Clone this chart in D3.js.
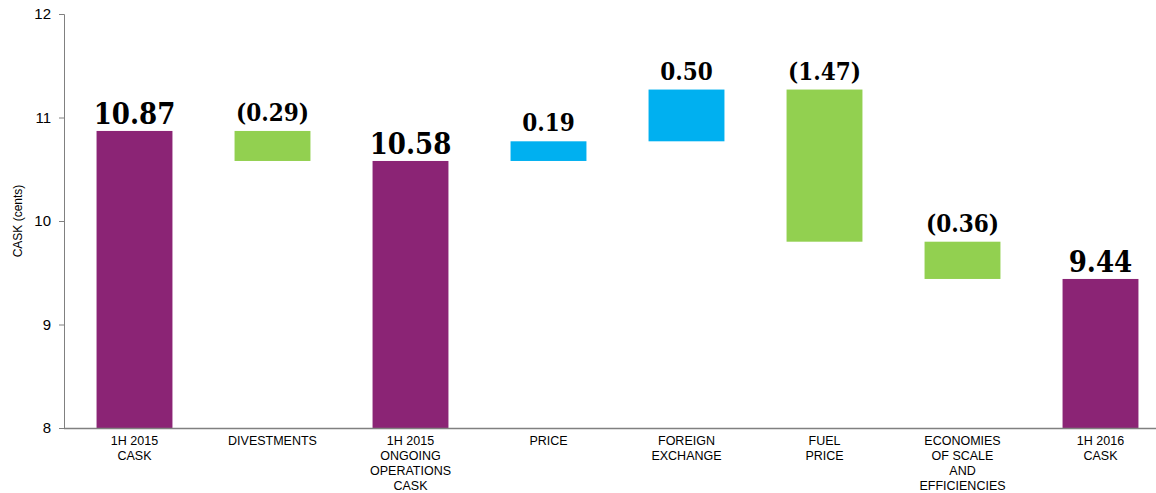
<!DOCTYPE html>
<html><head><meta charset="utf-8">
<script src="https://cdn.jsdelivr.net/npm/d3@7"></script>
<style>body{margin:0;background:#fff}svg{display:block}</style>
</head><body>
<svg id="c" width="1156" height="493"></svg>
<script>
const categories = [["1H 2015","CASK"],["DIVESTMENTS"],["1H 2015","ONGOING","OPERATIONS","CASK"],["PRICE"],["FOREIGN","EXCHANGE"],["FUEL","PRICE"],["ECONOMIES","OF SCALE","AND","EFFICIENCIES"],["1H 2016","CASK"]];
const values = [10.87, -0.29, 10.58, 0.19, 0.50, -1.47, -0.36, 9.44];
const kinds = ["total","delta","total","delta","delta","delta","delta","total"];
const labels = ["10.87","(0.29)","10.58","0.19","0.50","(1.47)","(0.36)","9.44"];
const yTicks = [8, 9, 10, 11, 12];

const svg = d3.select("#c");
const x = d3.scaleBand().domain(d3.range(categories.length)).range([65.5, 1169.5]).paddingInner(0.45).paddingOuter(0.225);
const y = d3.scaleLinear().domain([8, 12]).range([428, 14]);

// compute waterfall
let run = 0;
const bars = values.map((v, i) => {
  let lo, hi, color;
  if (kinds[i] === "total") { lo = 8; hi = v; run = v; color = "#8B2475"; }
  else { const s = run; run = +(run + v).toFixed(2); lo = Math.min(s, run); hi = Math.max(s, run); color = v < 0 ? "#92D050" : "#00B0F0"; }
  return {i, lo, hi, color, total: kinds[i] === "total"};
});

svg.selectAll("rect.bar").data(bars).join("rect")
  .attr("x", d => x(d.i)).attr("width", x.bandwidth())
  .attr("y", d => y(d.hi)).attr("height", d => y(d.lo) - y(d.hi) + (d.total ? 1 : 0))
  .attr("fill", d => d.color);

// y axis
const ya = svg.append("g").attr("transform", "translate(64,0)")
  .call(d3.axisLeft(y).tickValues(yTicks).tickSize(5).tickPadding(8).tickFormat(d3.format("d")));
ya.select(".domain").attr("stroke", "#808080").attr("d", "M-5,14.5H0.5V428.5H-5");
ya.selectAll(".tick line").attr("stroke", "#808080");
ya.selectAll(".tick text").attr("font-family", "Liberation Sans, Arial, sans-serif").attr("font-size", 15).attr("fill", "#000");

// x axis line
svg.append("line").attr("x1", 64).attr("x2", 1156).attr("y1", 428.5).attr("y2", 428.5).attr("stroke", "#808080").attr("stroke-width", 1.5);

// x labels
const xl = svg.append("g");
categories.forEach((lines, i) => {
  const t = xl.append("text").attr("x", x(i) + x.bandwidth() / 2).attr("y", 445)
    .attr("text-anchor", "middle").attr("font-family", "Liberation Sans, Arial, sans-serif").attr("font-size", 12.5).attr("fill", "#000");
  lines.forEach((l, k) => t.append("tspan").attr("x", x(i) + x.bandwidth() / 2).attr("dy", k ? 15 : 0).text(l));
});

// axis title
svg.append("text").attr("transform", "translate(22,221) rotate(-90)").attr("text-anchor", "middle")
  .attr("font-family", "Liberation Sans, Arial, sans-serif").attr("font-size", 12).text("CASK (cents)");

// data labels
svg.selectAll("text.lbl").data(bars).join("text")
  .attr("x", d => x(d.i) + x.bandwidth() / 2)
  .attr("y", d => y(d.hi) - (d.total ? 7 : 10))
  .attr("text-anchor", "middle")
  .attr("font-family", "DejaVu Serif Condensed, DejaVu Serif, serif")
  .attr("font-stretch", "condensed")
  .attr("font-weight", "bold")
  .attr("font-size", d => d.total ? 29 : 24)
  .attr("fill", "#000")
  .text((d, i) => labels[i]);
</script>
</body></html>
